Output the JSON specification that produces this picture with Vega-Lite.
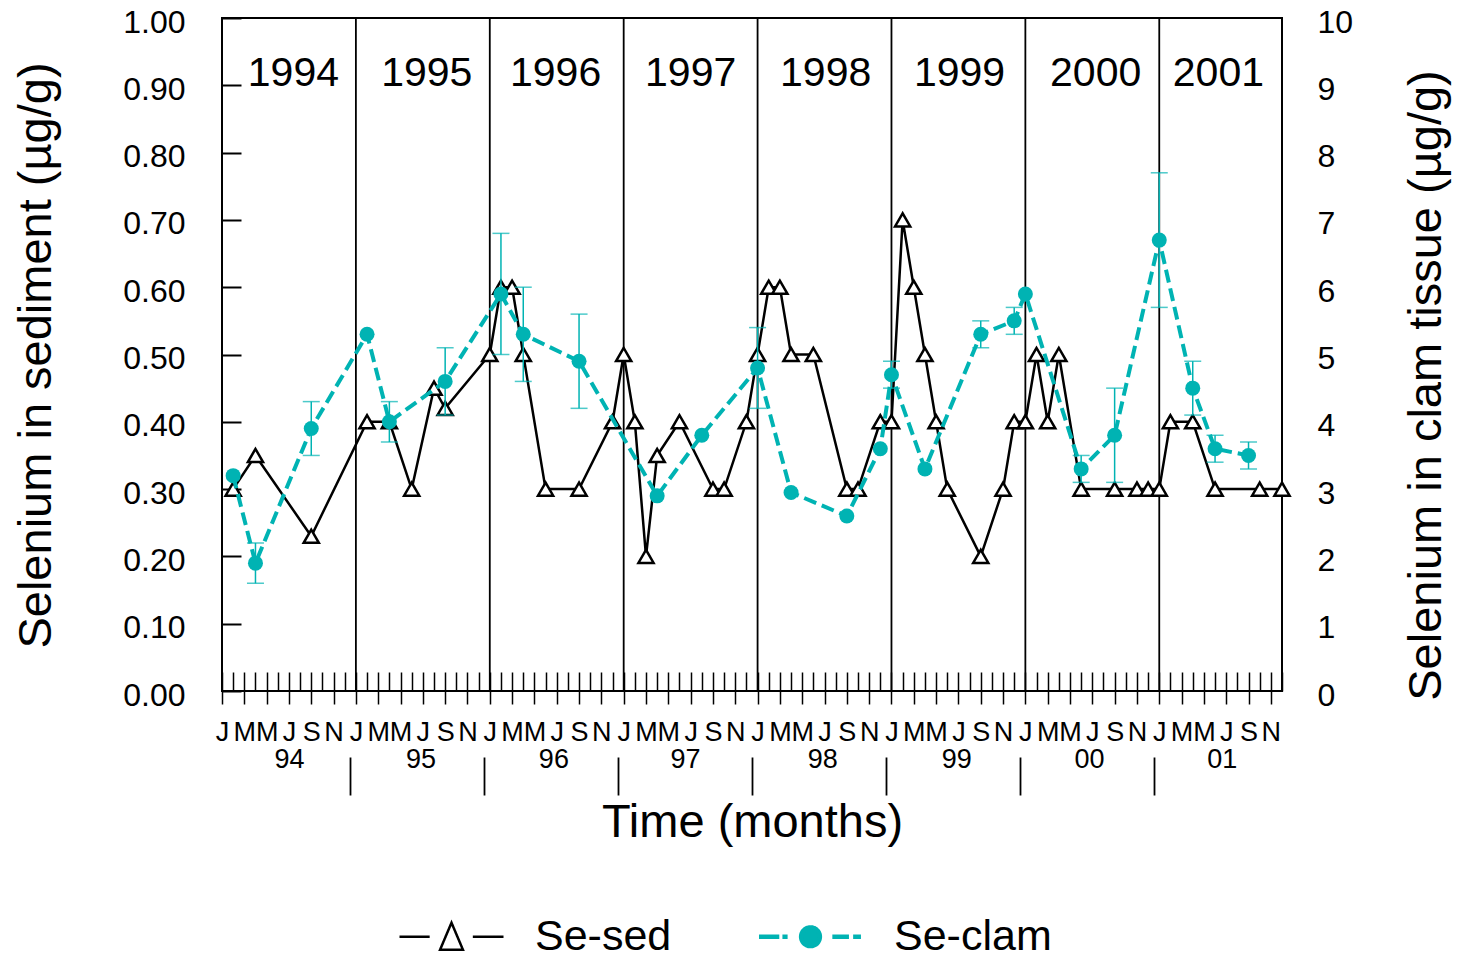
{
  "$schema": "https://vega.github.io/schema/vega-lite/v6.json",
  "autosize": {"type": "none"},
  "width": 1060,
  "height": 673,
  "padding": {"left": 222, "top": 18, "right": 175, "bottom": 264},
  "background": "white",
  "config": {
    "font": "Liberation Sans",
    "view": {"stroke": "black", "strokeWidth": 2},
    "axis": {"labelColor": "black", "tickColor": "black", "domainColor": "black", "titleColor": "black", "titleFontWeight": "normal", "grid": false, "labelFont": "Liberation Sans", "titleFont": "Liberation Sans"},
    "legend": {"labelFont": "Liberation Sans", "labelColor": "black"}
  },
  "datasets": {
    "sed": [
      {"m": 1, "v": 0.30}, {"m": 3, "v": 0.35}, {"m": 8, "v": 0.23}, {"m": 13, "v": 0.40}, {"m": 15, "v": 0.40},
      {"m": 17, "v": 0.30}, {"m": 19, "v": 0.45}, {"m": 20, "v": 0.42}, {"m": 24, "v": 0.50}, {"m": 25, "v": 0.60},
      {"m": 26, "v": 0.60}, {"m": 27, "v": 0.50}, {"m": 29, "v": 0.30}, {"m": 32, "v": 0.30}, {"m": 35, "v": 0.40},
      {"m": 36, "v": 0.50}, {"m": 37, "v": 0.40}, {"m": 38, "v": 0.20}, {"m": 39, "v": 0.35}, {"m": 41, "v": 0.40},
      {"m": 44, "v": 0.30}, {"m": 45, "v": 0.30}, {"m": 47, "v": 0.40}, {"m": 48, "v": 0.50}, {"m": 49, "v": 0.60},
      {"m": 50, "v": 0.60}, {"m": 51, "v": 0.50}, {"m": 53, "v": 0.50}, {"m": 56, "v": 0.30}, {"m": 57, "v": 0.30},
      {"m": 59, "v": 0.40}, {"m": 60, "v": 0.40}, {"m": 61, "v": 0.70}, {"m": 62, "v": 0.60}, {"m": 63, "v": 0.50},
      {"m": 64, "v": 0.40}, {"m": 65, "v": 0.30}, {"m": 68, "v": 0.20}, {"m": 70, "v": 0.30}, {"m": 71, "v": 0.40},
      {"m": 72, "v": 0.40}, {"m": 73, "v": 0.50}, {"m": 74, "v": 0.40}, {"m": 75, "v": 0.50}, {"m": 77, "v": 0.30},
      {"m": 80, "v": 0.30}, {"m": 82, "v": 0.30}, {"m": 83, "v": 0.30}, {"m": 84, "v": 0.30}, {"m": 85, "v": 0.40},
      {"m": 87, "v": 0.40}, {"m": 89, "v": 0.30}, {"m": 93, "v": 0.30}, {"m": 95, "v": 0.30}
    ],
    "clam": [
      {"m": 1, "v": 3.2, "lo": null, "hi": null},
      {"m": 3, "v": 1.9, "lo": 1.6, "hi": 2.2},
      {"m": 8, "v": 3.9, "lo": 3.5, "hi": 4.3},
      {"m": 13, "v": 5.3, "lo": null, "hi": null},
      {"m": 15, "v": 4.0, "lo": 3.7, "hi": 4.3},
      {"m": 20, "v": 4.6, "lo": 4.1, "hi": 5.1},
      {"m": 25, "v": 5.9, "lo": 5.0, "hi": 6.8},
      {"m": 27, "v": 5.3, "lo": 4.6, "hi": 6.0},
      {"m": 32, "v": 4.9, "lo": 4.2, "hi": 5.6},
      {"m": 39, "v": 2.9, "lo": null, "hi": null},
      {"m": 43, "v": 3.8, "lo": null, "hi": null},
      {"m": 48, "v": 4.8, "lo": 4.2, "hi": 5.4},
      {"m": 51, "v": 2.95, "lo": null, "hi": null},
      {"m": 56, "v": 2.6, "lo": null, "hi": null},
      {"m": 59, "v": 3.6, "lo": null, "hi": null},
      {"m": 60, "v": 4.7, "lo": 4.5, "hi": 4.9},
      {"m": 63, "v": 3.3, "lo": null, "hi": null},
      {"m": 68, "v": 5.3, "lo": 5.1, "hi": 5.5},
      {"m": 71, "v": 5.5, "lo": 5.3, "hi": 5.7},
      {"m": 72, "v": 5.9, "lo": null, "hi": null},
      {"m": 77, "v": 3.3, "lo": 3.1, "hi": 3.5},
      {"m": 80, "v": 3.8, "lo": 3.1, "hi": 4.5},
      {"m": 84, "v": 6.7, "lo": 5.7, "hi": 7.7},
      {"m": 87, "v": 4.5, "lo": 4.1, "hi": 4.9},
      {"m": 89, "v": 3.6, "lo": 3.4, "hi": 3.8},
      {"m": 92, "v": 3.5, "lo": 3.3, "hi": 3.7}
    ],
    "yearlines": [{"m": 12}, {"m": 24}, {"m": 36}, {"m": 48}, {"m": 60}, {"m": 72}, {"m": 84}],
    "yearlabels": [
      {"year": "1994", "m": 6.4}, {"year": "1995", "m": 18.35}, {"year": "1996", "m": 29.9}, {"year": "1997", "m": 42.0},
      {"year": "1998", "m": 54.1}, {"year": "1999", "m": 66.1}, {"year": "2000", "m": 78.3}, {"year": "2001", "m": 89.3}
    ]
  },
  "layer": [
    {
      "data": {"name": "yearlines"},
      "mark": {"type": "rule", "strokeWidth": 1.8, "color": "black"},
      "encoding": {
        "x": {
          "field": "m", "type": "quantitative",
          "scale": {"domain": [0, 95], "nice": false, "zero": false},
          "axis": {
            "orient": "bottom", "title": null, "labels": false, "domain": false,
            "values": [0,1,2,3,4,5,6,7,8,9,10,11,12,13,14,15,16,17,18,19,20,21,22,23,24,25,26,27,28,29,30,31,32,33,34,35,36,37,38,39,40,41,42,43,44,45,46,47,48,49,50,51,52,53,54,55,56,57,58,59,60,61,62,63,64,65,66,67,68,69,70,71,72,73,74,75,76,77,78,79,80,81,82,83,84,85,86,87,88,89,90,91,92,93,94,95],
            "tickSize": -19, "tickWidth": 1.5
          }
        }
      }
    },
    {
      "data": {"name": "sed"},
      "encoding": {
        "x": {
          "field": "m", "type": "quantitative",
          "scale": {"domain": [0, 95], "nice": false, "zero": false},
          "axis": {
            "orient": "bottom", "domain": false,
            "values": [0,2,4,6,8,10,12,14,16,18,20,22,24,26,28,30,32,34,36,38,40,42,44,46,48,50,52,54,56,58,60,62,64,66,68,70,72,74,76,78,80,82,84,86,88,90,92,94],
            "tickSize": 13, "tickWidth": 1.5,
            "labelExpr": "['J','F','M','A','M','J','J','A','S','O','N','D'][datum.value % 12]",
            "labelFontSize": 27, "labelPadding": 36, "labelBaseline": "alphabetic", "labelAlign": "center",
            "labelFlush": false, "labelOverlap": false, "labelBound": false,
            "title": "Time (months)", "titleFontSize": 47, "titleX": 530, "titleY": 145,
            "titleBaseline": "alphabetic", "titleAlign": "center"
          }
        },
        "y": {
          "field": "v", "type": "quantitative",
          "scale": {"domain": [0, 1], "nice": false, "zero": false},
          "axis": {
            "orient": "left", "domain": false,
            "values": [0, 0.1, 0.2, 0.3, 0.4, 0.5, 0.6, 0.7, 0.8, 0.9, 1.0],
            "format": ".2f", "tickSize": -19, "tickWidth": 2,
            "labelFontSize": 32, "labelPadding": 56, "labelOffset": 4, "labelFlush": false, "labelOverlap": false, "labelBound": false,
            "title": "Selenium in sediment (µg/g)", "titleFontSize": 47, "titleAngle": 270,
            "titleX": -172, "titleY": 337, "titleBaseline": "alphabetic", "titleAlign": "center"
          }
        }
      },
      "layer": [
        {
          "mark": {"type": "line", "strokeWidth": 2.5},
          "encoding": {
            "color": {
              "datum": "Se-sed",
              "scale": {"domain": ["Se-sed", "Se-clam"], "range": ["black", "#00B3B3"]},
              "legend": {
                "title": null, "orient": "none", "legendX": 208, "legendY": 897, "direction": "horizontal",
                "padding": 0, "symbolSize": 10816, "labelFontSize": 43, "labelOffset": 62, "columnPadding": 78, "labelLimit": 400,
                "encode": {
                  "symbols": {
                    "update": {
                      "shape": {"signal": "datum.value === 'Se-sed' ? 'M-1,0H-0.42M0.41,0H1M0,-0.27L-0.22,0.25L0.22,0.25Z' : 'M-0.99,0H-0.6M-0.54,0H-0.44M0.42,0H0.74M0.82,0H0.97M-0.18,0A0.18,0.18 0 1,0 0.18,0A0.18,0.18 0 1,0 -0.18,0Z'"},
                      "fill": {"signal": "datum.value === 'Se-sed' ? 'white' : '#00B3B3'"},
                      "stroke": {"signal": "datum.value === 'Se-sed' ? 'black' : '#00B3B3'"},
                      "strokeWidth": {"signal": "datum.value === 'Se-sed' ? 2.5 : 4.5"},
                      "strokeDash": {"value": [1, 0]},
                      "size": {"value": 10816},
                      "opacity": {"value": 1}
                    }
                  }
                }
              }
            }
          }
        },
        {
          "mark": {"type": "point", "shape": "triangle-up", "filled": true, "fill": "white", "stroke": "black", "strokeWidth": 2.5, "size": 230, "opacity": 1}
        }
      ]
    },
    {
      "data": {"name": "clam"},
      "encoding": {
        "x": {
          "field": "m", "type": "quantitative",
          "scale": {"domain": [0, 95], "nice": false, "zero": false},
          "axis": {
            "orient": "bottom", "domain": false, "ticks": false, "title": null,
            "values": [6.0, 17.8, 29.7, 41.5, 53.8, 65.8, 77.7, 89.6],
            "labelExpr": "['94','95','96','97','98','99','00','01'][floor(datum.value / 12)]",
            "labelFontSize": 27, "labelPadding": 76, "labelBaseline": "alphabetic", "labelAlign": "center",
            "labelFlush": false, "labelOverlap": false, "labelBound": false
          }
        }
      },
      "layer": [
        {
          "transform": [{"filter": "datum.lo != null"}],
          "mark": {"type": "errorbar", "ticks": {"size": 17}, "thickness": 1.5, "color": "#00B3B3"},
          "encoding": {
            "y": {
              "field": "lo", "type": "quantitative",
              "scale": {"domain": [0, 10], "nice": false, "zero": false},
              "axis": {
                "orient": "right", "domain": false, "ticks": false,
                "values": [0,1,2,3,4,5,6,7,8,9,10], "format": "d",
                "labelFontSize": 32, "labelPadding": 35, "labelOffset": 4, "labelFlush": false, "labelOverlap": false, "labelBound": false,
                "title": "Selenium in clam tissue (µg/g)", "titleFontSize": 47, "titleAngle": 270,
                "titleX": 158, "titleY": 367, "titleBaseline": "alphabetic", "titleAlign": "center"
              }
            },
            "y2": {"field": "hi"}
          }
        },
        {
          "mark": {"type": "line", "strokeWidth": 4, "strokeDash": [13, 6]},
          "encoding": {
            "y": {
              "field": "v", "type": "quantitative",
              "scale": {"domain": [0, 10], "nice": false, "zero": false},
              "axis": {
                "orient": "right", "domain": false, "ticks": false,
                "values": [0,1,2,3,4,5,6,7,8,9,10], "format": "d",
                "labelFontSize": 32, "labelPadding": 35, "labelOffset": 4, "labelFlush": false, "labelOverlap": false, "labelBound": false,
                "title": "Selenium in clam tissue (µg/g)", "titleFontSize": 47, "titleAngle": 270,
                "titleX": 158, "titleY": 367, "titleBaseline": "alphabetic", "titleAlign": "center"
              }
            },
            "color": {
              "datum": "Se-clam",
              "scale": {"domain": ["Se-sed", "Se-clam"], "range": ["black", "#00B3B3"]}
            }
          }
        },
        {
          "mark": {"type": "circle", "size": 225, "color": "#00B3B3", "opacity": 1},
          "encoding": {
            "y": {
              "field": "v", "type": "quantitative",
              "scale": {"domain": [0, 10], "nice": false, "zero": false},
              "axis": {
                "orient": "right", "domain": false, "ticks": false,
                "values": [0,1,2,3,4,5,6,7,8,9,10], "format": "d",
                "labelFontSize": 32, "labelPadding": 35, "labelOffset": 4, "labelFlush": false, "labelOverlap": false, "labelBound": false,
                "title": "Selenium in clam tissue (µg/g)", "titleFontSize": 47, "titleAngle": 270,
                "titleX": 158, "titleY": 367, "titleBaseline": "alphabetic", "titleAlign": "center"
              }
            }
          }
        }
      ]
    },
    {
      "data": {"name": "yearlabels"},
      "mark": {"type": "text", "fontSize": 41, "baseline": "alphabetic", "align": "center", "color": "black"},
      "encoding": {
        "x": {
          "field": "m", "type": "quantitative",
          "scale": {"domain": [0, 95], "nice": false, "zero": false},
          "axis": {
            "orient": "bottom", "domain": false, "labels": false, "title": null, "offset": 66,
            "values": [11.5, 23.5, 35.5, 47.5, 59.5, 71.5, 83.5],
            "tickSize": 38, "tickWidth": 1.8
          }
        },
        "y": {"datum": 0.899, "type": "quantitative", "scale": {"domain": [0, 1], "nice": false, "zero": false}, "axis": null},
        "text": {"field": "year"}
      }
    }
  ],
  "resolve": {"scale": {"y": "independent"}, "axis": {"x": "independent", "y": "independent"}}
}
